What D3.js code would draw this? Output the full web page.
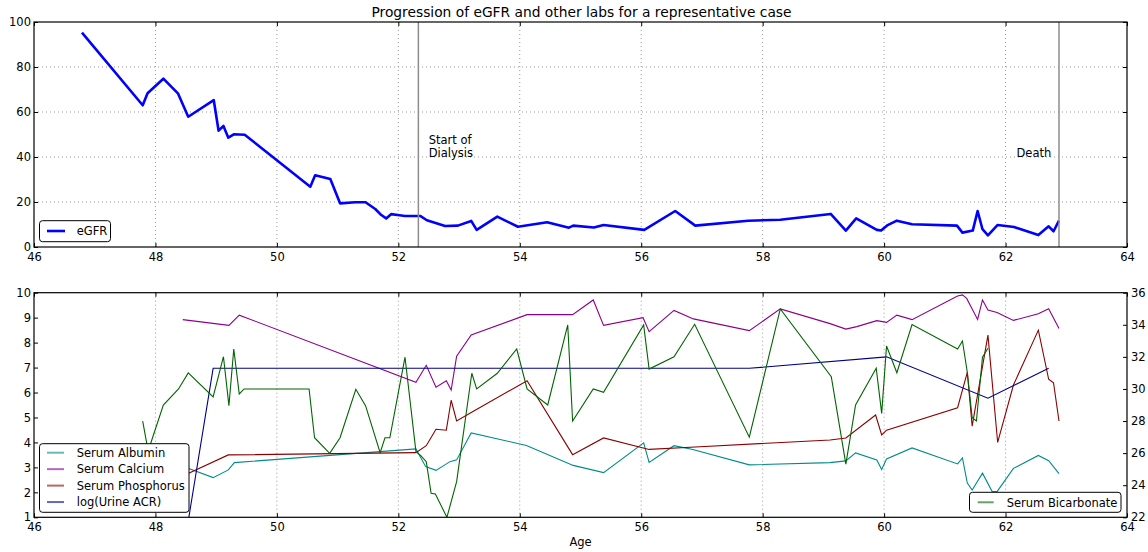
<!DOCTYPE html>
<html>
<head>
<meta charset="utf-8">
<script src="https://cdn.jsdelivr.net/npm/d3@7"></script>
<style>
  body { margin: 0; background: #fff; }
  text { font-family: "DejaVu Sans", sans-serif; }
</style>
</head>
<body>
<svg id="chart" width="1148" height="552"></svg>
<script>
// Data (age in years)
const egfrAge = [46.79, 47.79, 47.87, 48.13, 48.37, 48.54, 48.96, 49.04, 49.12, 49.20, 49.29, 49.47, 50.55, 50.63, 50.88, 51.04, 51.29, 51.46, 51.62, 51.72, 51.80, 51.88, 52.02, 52.11, 52.36, 52.47, 52.77, 52.98, 53.20, 53.29, 53.63, 53.97, 54.45, 54.81, 54.88, 55.22, 55.38, 56.05, 56.56, 56.89, 57.76, 58.29, 59.12, 59.37, 59.54, 59.88, 59.95, 60.05, 60.21, 60.46, 61.20, 61.29, 61.46, 61.54, 61.62, 61.71, 61.87, 62.14, 62.54, 62.71, 62.79, 62.88];
const egfrVal = [95.3, 63.0, 68.3, 74.8, 68.3, 57.9, 65.3, 51.7, 53.8, 48.6, 50.1, 49.9, 26.8, 31.9, 30.2, 19.4, 19.9, 19.9, 16.9, 14.2, 12.7, 14.6, 14.1, 13.8, 13.8, 11.9, 9.3, 9.5, 11.6, 7.6, 13.5, 9.0, 11.0, 8.6, 9.5, 8.7, 9.8, 7.6, 16.0, 9.5, 11.7, 12.1, 14.7, 7.3, 12.7, 7.6, 7.3, 9.6, 11.7, 10.1, 9.5, 6.4, 7.3, 16.0, 7.9, 5.2, 9.8, 8.9, 5.3, 9.2, 7.0, 11.7];

const albAge = [48.45, 48.95, 49.20, 49.30, 52.29, 52.45, 52.62, 52.85, 52.96, 53.20, 54.11, 54.88, 55.38, 56.04, 56.13, 56.54, 56.85, 57.78, 59.11, 59.37, 59.53, 59.88, 59.96, 60.04, 60.46, 61.21, 61.29, 61.37, 61.45, 61.62, 61.78, 61.86, 62.13, 62.54, 62.71, 62.88];
const albVal = [3.05, 2.59, 2.90, 3.19, 3.74, 3.03, 2.88, 3.23, 3.30, 4.38, 3.88, 3.08, 2.79, 3.98, 3.20, 3.87, 3.72, 3.10, 3.19, 3.26, 3.58, 3.30, 2.92, 3.34, 3.78, 3.14, 3.38, 2.37, 2.09, 2.77, 2.03, 2.03, 2.96, 3.48, 3.27, 2.75];

const caAge = [48.45, 49.21, 49.38, 52.29, 52.46, 52.62, 52.79, 52.87, 52.96, 53.20, 54.12, 54.87, 55.21, 55.38, 56.03, 56.13, 56.54, 56.86, 57.78, 58.29, 59.11, 59.37, 59.55, 59.88, 60.04, 60.21, 60.46, 61.21, 61.29, 61.36, 61.45, 61.54, 61.62, 61.71, 61.86, 62.13, 62.54, 62.71, 62.88];
const caVal = [8.92, 8.69, 9.10, 6.41, 7.09, 6.21, 6.47, 6.10, 7.46, 8.31, 9.12, 9.12, 9.71, 8.69, 9.00, 8.44, 9.29, 8.95, 8.48, 9.35, 8.76, 8.54, 8.64, 8.88, 8.81, 9.10, 8.92, 9.87, 9.91, 9.77, 9.35, 8.93, 9.71, 9.31, 9.21, 8.89, 9.16, 9.36, 8.57];

const phosAge = [48.45, 49.20, 52.29, 52.46, 52.62, 52.79, 52.87, 52.96, 53.20, 54.12, 54.87, 55.38, 56.13, 56.89, 59.11, 59.37, 59.86, 59.96, 60.04, 61.21, 61.37, 61.45, 61.71, 61.87, 62.13, 62.54, 62.71, 62.79, 62.88];
const phosVal = [2.65, 3.50, 3.59, 3.87, 4.53, 4.49, 5.69, 4.86, 5.20, 6.47, 3.51, 4.18, 3.72, 3.82, 4.10, 4.18, 5.10, 4.30, 4.49, 5.39, 6.81, 4.65, 8.30, 4.00, 6.30, 8.50, 6.53, 6.39, 4.86];

const acrAge = [48.55, 48.95, 57.78, 60.04, 61.71, 62.71];
const acrVal = [1.0, 6.97, 6.97, 7.43, 5.77, 6.97];

const bicAge = [47.79, 47.88, 48.13, 48.38, 48.54, 48.95, 49.12, 49.21, 49.29, 49.38, 49.46, 50.53, 50.62, 50.87, 51.04, 51.30, 51.46, 51.70, 51.78, 51.86, 52.11, 52.29, 52.37, 52.46, 52.54, 52.61, 52.80, 52.96, 53.21, 53.29, 53.63, 53.95, 54.12, 54.46, 54.79, 54.87, 55.21, 55.38, 56.04, 56.13, 56.54, 56.88, 57.78, 58.29, 59.13, 59.37, 59.53, 59.87, 59.96, 60.04, 60.21, 60.46, 61.21, 61.29, 61.37, 61.45, 61.52, 61.62, 61.71];
const bicVal = [28.00, 26.13, 29.00, 30.00, 31.00, 29.50, 32.01, 28.96, 32.49, 29.69, 30.00, 30.00, 26.96, 25.99, 26.96, 29.98, 28.96, 26.03, 26.96, 26.96, 31.98, 26.09, 25.84, 25.47, 23.50, 23.45, 22.00, 24.22, 30.98, 30.00, 30.98, 32.49, 30.00, 29.00, 33.99, 28.00, 30.00, 29.79, 33.99, 31.24, 32.01, 34.03, 26.99, 34.99, 30.77, 25.32, 29.00, 31.29, 28.48, 32.68, 31.01, 34.01, 32.49, 32.99, 31.04, 28.21, 28.00, 31.98, 32.54];

const events = [{ age: 52.33, label: ["Start of", "Dialysis"], tx: 52.5 }, { age: 62.88, label: ["Death"], tx: 62.18 }];

const xTicks = d3.range(46, 65, 2);
const egfrTicks = d3.range(0, 101, 20);
const leftTicks = d3.range(1, 11, 1);
const rightTicks = d3.range(22, 37, 2);

const svg = d3.select("#chart");
svg.append("rect").attr("width", 1148).attr("height", 552).attr("fill", "#fff");

const left = 34, right = 1127;
const top1 = 22, bot1 = 247;
const top2 = 292.7, bot2 = 517.3;
const fs = 11.5;

const x = d3.scaleLinear().domain([46, 64]).range([left, right]);
const y1 = d3.scaleLinear().domain([0, 100]).range([bot1, top1]);
const y2 = d3.scaleLinear().domain([1, 10]).range([bot2, top2]);
const y2r = d3.scaleLinear().domain([22, 36]).range([bot2, top2]);

const zip = (a, b) => a.map((v, i) => [v, b[i]]);

// clip regions
const defs = svg.append("defs");
defs.append("clipPath").attr("id", "clip1").append("rect")
  .attr("x", left).attr("y", top1).attr("width", right - left).attr("height", bot1 - top1);
defs.append("clipPath").attr("id", "clip2").append("rect")
  .attr("x", left).attr("y", top2).attr("width", right - left).attr("height", bot2 - top2);

function styleAxis(g, showText) {
  g.select(".domain").remove();
  g.selectAll("line").attr("stroke", "#000");
  g.selectAll("text").attr("font-size", fs).attr("font-family", "DejaVu Sans").attr("fill", "#000");
  if (!showText) g.selectAll("text").remove();
}

function frame(yTop, yBot, yScale, yTicksArr, twin) {
  // grid
  const grid = svg.append("g").attr("stroke", "#999").attr("stroke-width", 1).attr("stroke-dasharray", "1,3");
  grid.selectAll("line.gx").data(xTicks.slice(1, -1)).join("line")
    .attr("x1", (d) => x(d)).attr("x2", (d) => x(d)).attr("y1", yTop).attr("y2", yBot);
  if (!twin) {
    grid.selectAll("line.gy").data(yTicksArr.slice(1, -1)).join("line")
      .attr("x1", left).attr("x2", right).attr("y1", (d) => yScale(d)).attr("y2", (d) => yScale(d));
  }
}

function axes(yTop, yBot, yScale, yTicksArr, twin) {
  svg.append("g").attr("transform", `translate(0,${yBot})`)
    .call(d3.axisBottom(x).tickValues(xTicks).tickFormat(d3.format("d")).tickSizeInner(-4).tickSizeOuter(0).tickPadding(6))
    .call((g) => styleAxis(g, true));
  svg.append("g").attr("transform", `translate(0,${yTop})`)
    .call(d3.axisTop(x).tickValues(xTicks).tickSizeInner(-4).tickSizeOuter(0))
    .call((g) => styleAxis(g, false));
  svg.append("g").attr("transform", `translate(${left},0)`)
    .call(d3.axisLeft(yScale).tickValues(yTicksArr).tickFormat(d3.format("d")).tickSizeInner(-4).tickSizeOuter(0).tickPadding(3))
    .call((g) => styleAxis(g, true));
  const rScale = twin || yScale;
  const rTicks = twin ? rightTicks : yTicksArr;
  svg.append("g").attr("transform", `translate(${right},0)`)
    .call(d3.axisRight(rScale).tickValues(rTicks).tickFormat(d3.format("d")).tickSizeInner(-4).tickSizeOuter(0).tickPadding(4))
    .call((g) => styleAxis(g, !!twin));
  svg.append("rect").attr("x", left).attr("y", yTop).attr("width", right - left).attr("height", yBot - yTop)
    .attr("fill", "none").attr("stroke", "#000").attr("stroke-width", 1.2);
}

// ---------- top panel ----------
frame(top1, bot1, y1, egfrTicks, null);

const line1 = d3.line().x((d) => x(d[0])).y((d) => y1(d[1]));
svg.append("path").datum(zip(egfrAge, egfrVal)).attr("clip-path", "url(#clip1)")
  .attr("d", line1).attr("fill", "none").attr("stroke", "#0000ff").attr("stroke-width", 2.6)
  .attr("stroke-linejoin", "round");

svg.selectAll("line.event").data(events).join("line").attr("class", "event")
  .attr("x1", (d) => x(d.age)).attr("x2", (d) => x(d.age)).attr("y1", top1).attr("y2", bot1)
  .attr("stroke", "#8c8c8c").attr("stroke-width", 1.5);

events.forEach((e) => {
  const n = e.label.length;
  e.label.forEach((t, i) => {
    svg.append("text").attr("x", x(e.tx)).attr("y", y1(40) - (n - 1 - i) * 13)
      .attr("font-size", fs).attr("fill", "#000").text(t);
  });
});

axes(top1, bot1, y1, egfrTicks, null);

// eGFR legend
const lg1 = svg.append("g");
lg1.append("rect").attr("x", 39.5).attr("y", 220.7).attr("width", 71).attr("height", 21).attr("rx", 3)
  .attr("fill", "#fff").attr("stroke", "#000").attr("stroke-width", 1);
lg1.append("line").attr("x1", 47).attr("x2", 65).attr("y1", 231).attr("y2", 231)
  .attr("stroke", "#0000ff").attr("stroke-width", 2.6);
lg1.append("text").attr("x", 76.7).attr("y", 235).attr("font-size", fs).text("eGFR");

// ---------- bottom panel ----------
frame(top2, bot2, y2, leftTicks, y2r);

const leftSeries = [
  { name: "Serum Albumin", color: "#008b8b", ages: albAge, vals: albVal },
  { name: "Serum Calcium", color: "#8b008b", ages: caAge, vals: caVal },
  { name: "Serum Phosphorus", color: "#8b0000", ages: phosAge, vals: phosVal },
  { name: "log(Urine ACR)", color: "#00008b", ages: acrAge, vals: acrVal },
];
const bicSeries = { name: "Serum Bicarbonate", color: "#006400", ages: bicAge, vals: bicVal };

const line2 = d3.line().x((d) => x(d[0])).y((d) => y2(d[1]));
const line2r = d3.line().x((d) => x(d[0])).y((d) => y2r(d[1]));

const g2 = svg.append("g").attr("clip-path", "url(#clip2)");
leftSeries.forEach((s) => {
  g2.append("path").datum(zip(s.ages, s.vals)).attr("d", line2)
    .attr("fill", "none").attr("stroke", s.color).attr("stroke-width", 1.1);
});
g2.append("path").datum(zip(bicSeries.ages, bicSeries.vals)).attr("d", line2r)
  .attr("fill", "none").attr("stroke", bicSeries.color).attr("stroke-width", 1.1);

axes(top2, bot2, y2, leftTicks, y2r);

// left legend
const lg2 = svg.append("g");
lg2.append("rect").attr("x", 39.5).attr("y", 443.7).attr("width", 149.5).attr("height", 68.6).attr("rx", 3)
  .attr("fill", "#fff").attr("stroke", "#000").attr("stroke-width", 1);
const rows = lg2.selectAll("g.row").data(leftSeries).join("g")
  .attr("transform", (d, i) => `translate(0,${452.7 + i * 16.45})`);
rows.append("line").attr("x1", 47).attr("x2", 64).attr("y1", 0).attr("y2", 0)
  .attr("stroke", (d) => d.color).attr("stroke-width", 2).attr("stroke-opacity", 0.6);
rows.append("text").attr("x", 76.7).attr("y", 4.2).attr("font-size", fs).text((d) => d.name);

// right legend
const lg3 = svg.append("g");
lg3.append("rect").attr("x", 969.5).attr("y", 492.3).attr("width", 151.5).attr("height", 20).attr("rx", 3)
  .attr("fill", "#fff").attr("stroke", "#000").attr("stroke-width", 1);
lg3.append("line").attr("x1", 977.7).attr("x2", 993.7).attr("y1", 502.3).attr("y2", 502.3)
  .attr("stroke", bicSeries.color).attr("stroke-width", 2).attr("stroke-opacity", 0.6);
lg3.append("text").attr("x", 1006.7).attr("y", 506.5).attr("font-size", fs).text(bicSeries.name);

// titles
svg.append("text").attr("x", (left + right) / 2 + 1).attr("y", 16.5).attr("text-anchor", "middle")
  .attr("font-size", 13.8).text("Progression of eGFR and other labs for a representative case");
svg.append("text").attr("x", (left + right) / 2).attr("y", 546).attr("text-anchor", "middle")
  .attr("font-size", fs).text("Age");
</script>
</body>
</html>
